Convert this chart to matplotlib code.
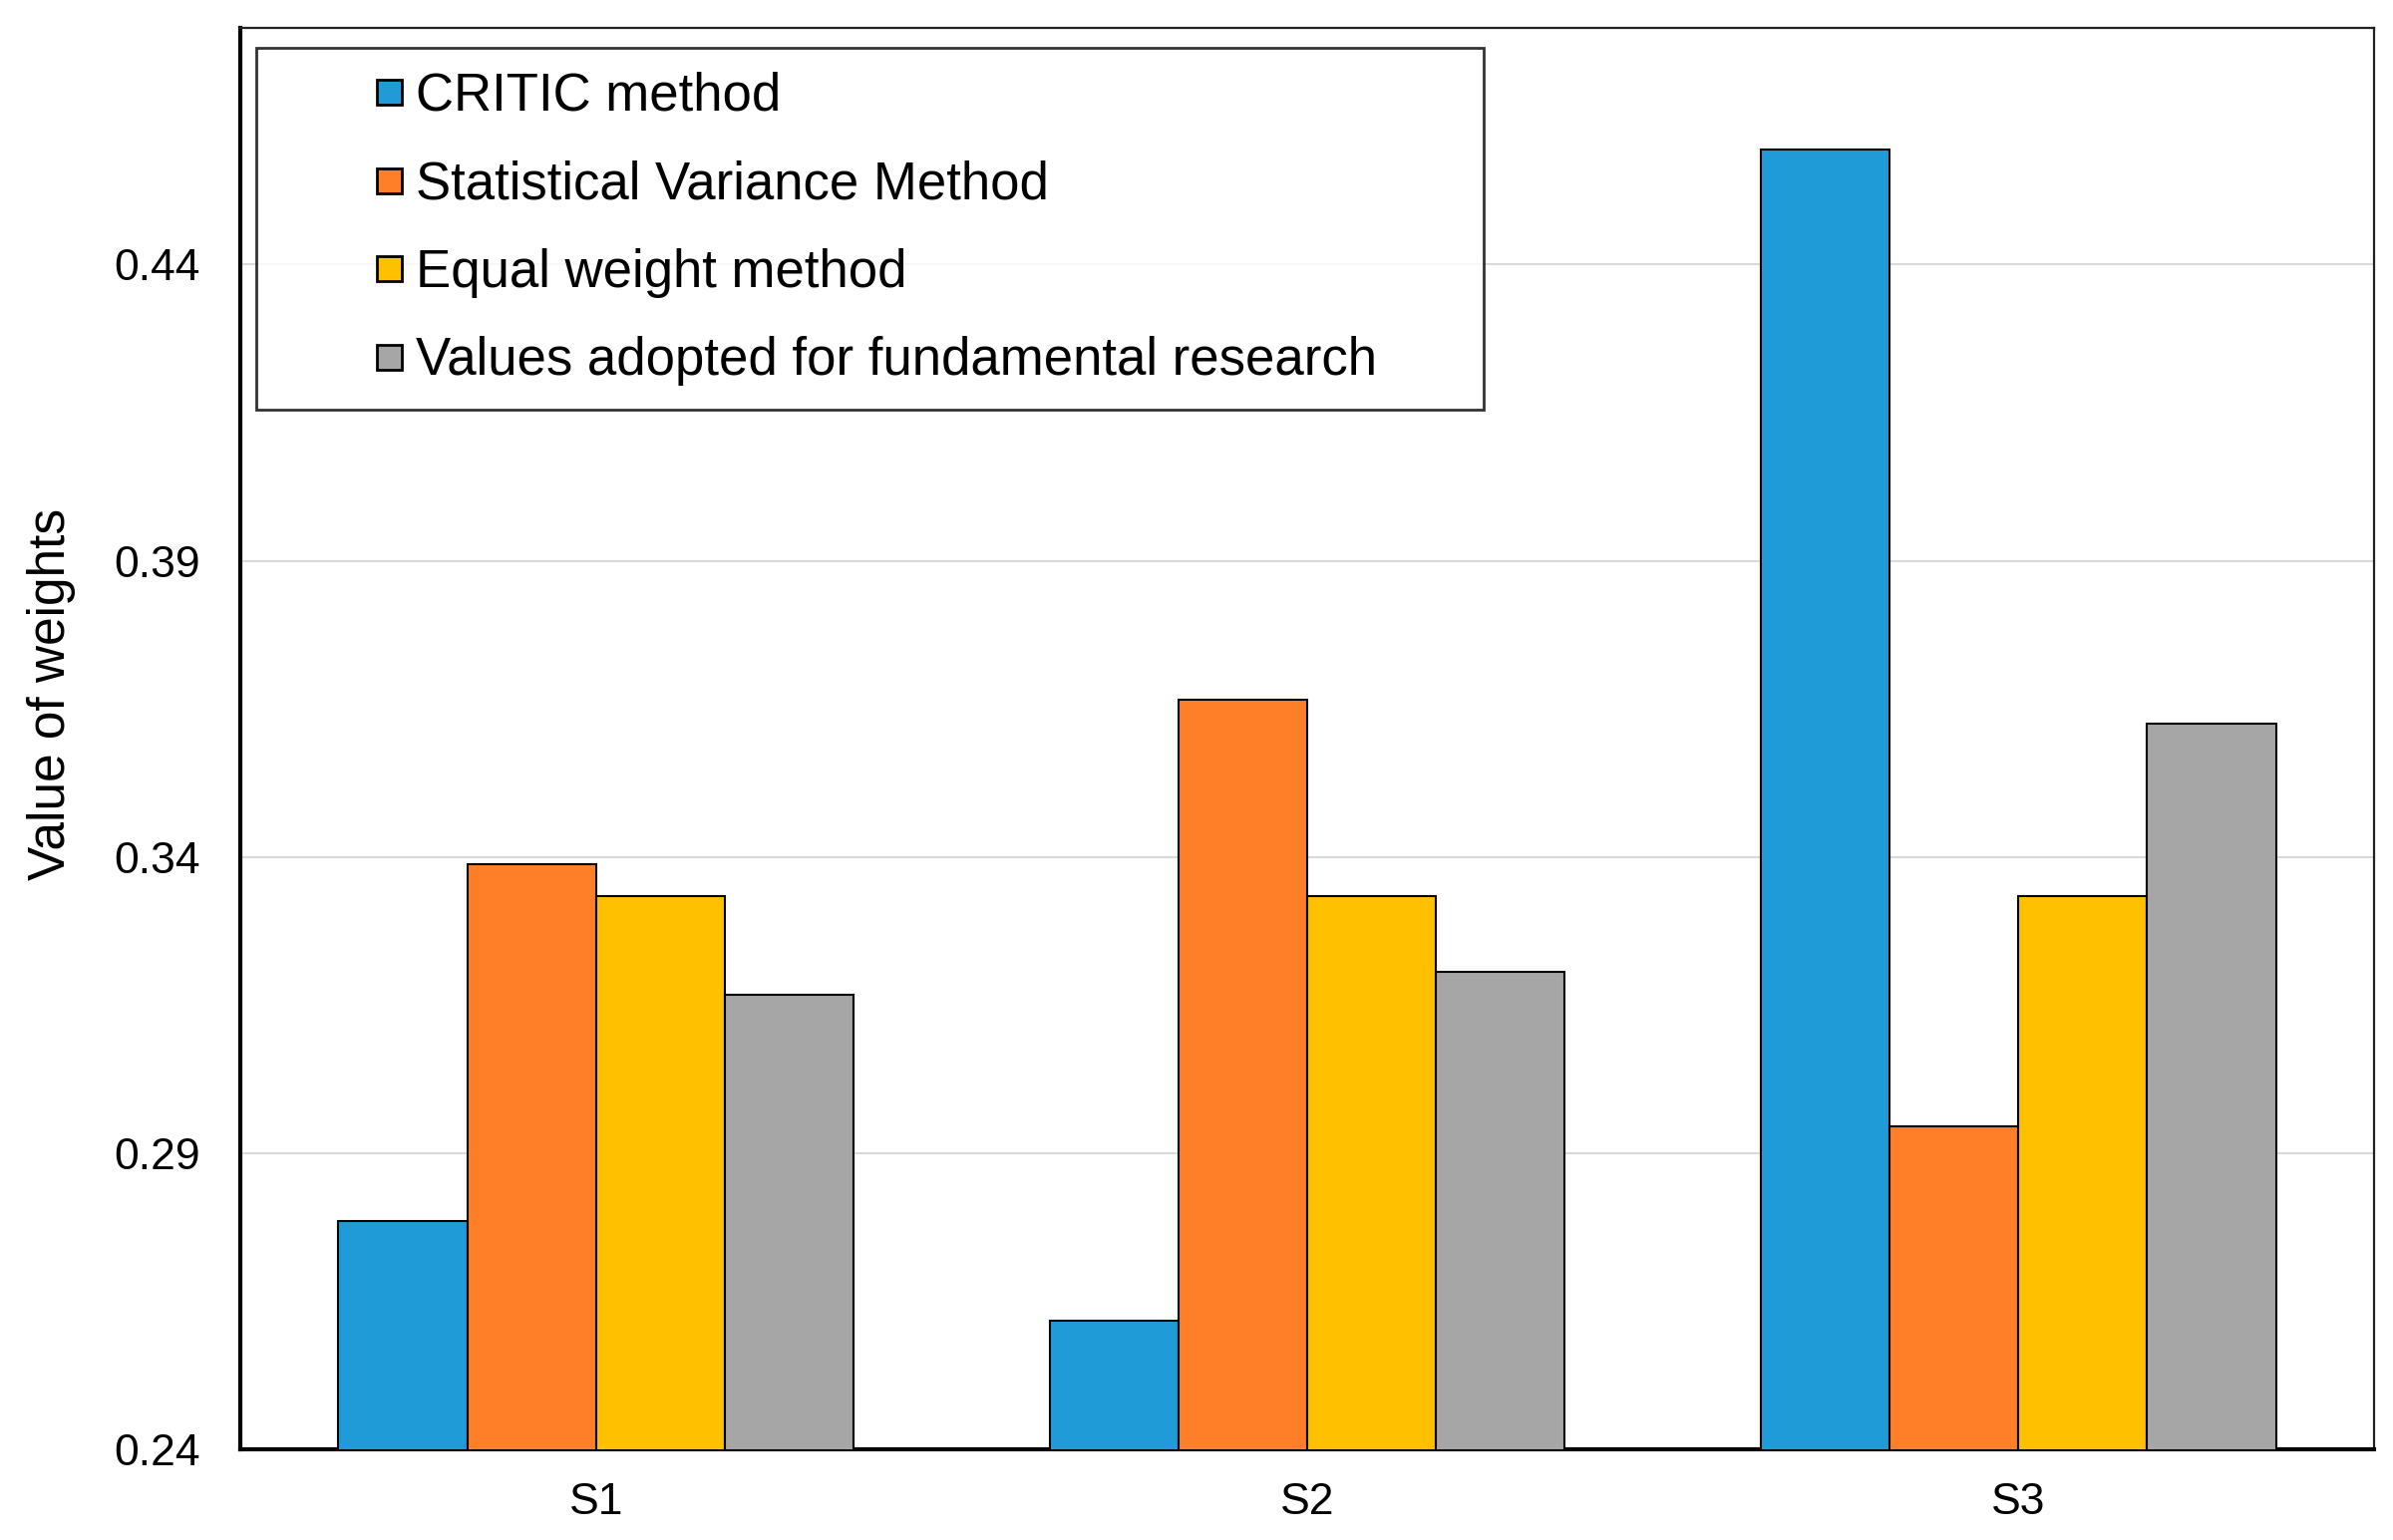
import numpy as np
import matplotlib.pyplot as plt
from matplotlib.lines import Line2D

plt.rcParams['font.family'] = ['Liberation Sans', 'DejaVu Sans']

groups = ['S1', 'S2', 'S3']
methods = ['CRITIC method', 'Statistical Variance Method',
           'Equal weight method', 'Values adopted for fundamental research']
critic = [0.2785, 0.2617, 0.4594]
variance = [0.3387, 0.3666, 0.2945]
equal = [0.3333, 0.3333, 0.3333]
adopted = [0.3167, 0.3206, 0.3625]
colors = ['#1f9cd8', '#fe7f27', '#ffc000', '#a6a6a6']

series = [critic, variance, equal, adopted]

fig = plt.figure(figsize=(24, 15.45), dpi=100, facecolor='w')
ax = fig.add_axes([0.1004, 0.059, 0.8917, 0.923])

x = np.arange(len(groups))
w = 0.181
for i, vals in enumerate(series):
    ax.bar(x + (i - 1.5) * w, vals, width=w, color=colors[i],
           edgecolor='black', linewidth=1.5, zorder=3)

ax.set_xlim(-0.5, 2.5)
ax.set_ylim(0.24, 0.48)
ax.set_yticks([0.24, 0.29, 0.34, 0.39, 0.44])
ax.set_yticklabels(['0.24', '0.29', '0.34', '0.39', '0.44'])
ax.set_xticks(x)
ax.set_xticklabels(groups)
ax.yaxis.grid(True, color='#d9d9d9', linewidth=1.5, zorder=0)
ax.set_axisbelow(True)

ax.tick_params(axis='y', length=0, pad=29, labelsize=32)
ax.tick_params(axis='x', length=0, pad=24, labelsize=32)
ax.set_ylabel('Value of weights', fontsize=37)
ax.yaxis.set_label_coords(-0.077, 0.531)

for s in ['left', 'bottom']:
    ax.spines[s].set_linewidth(3)
    ax.spines[s].set_color('black')
for s in ['top', 'right']:
    ax.spines[s].set_linewidth(1.6)
    ax.spines[s].set_color('#222222')

handles = [Line2D([], [], linestyle='none', marker='s', markersize=18,
                  markerfacecolor=c, markeredgecolor='black', markeredgewidth=2)
           for c in colors]
leg = fig.legend(handles, methods, loc='upper left',
                 bbox_to_anchor=(0.107, 0.7385, 0.513, 0.2305),
                 mode='expand', fontsize=38, frameon=True, fancybox=False,
                 handlelength=4.16, handletextpad=-1.58, borderpad=0.45,
                 labelspacing=0.73, borderaxespad=0, numpoints=1)
leg.get_frame().set_edgecolor('black')
leg.get_frame().set_linewidth(2)

plt.savefig('out.png', dpi=100, facecolor='w')
